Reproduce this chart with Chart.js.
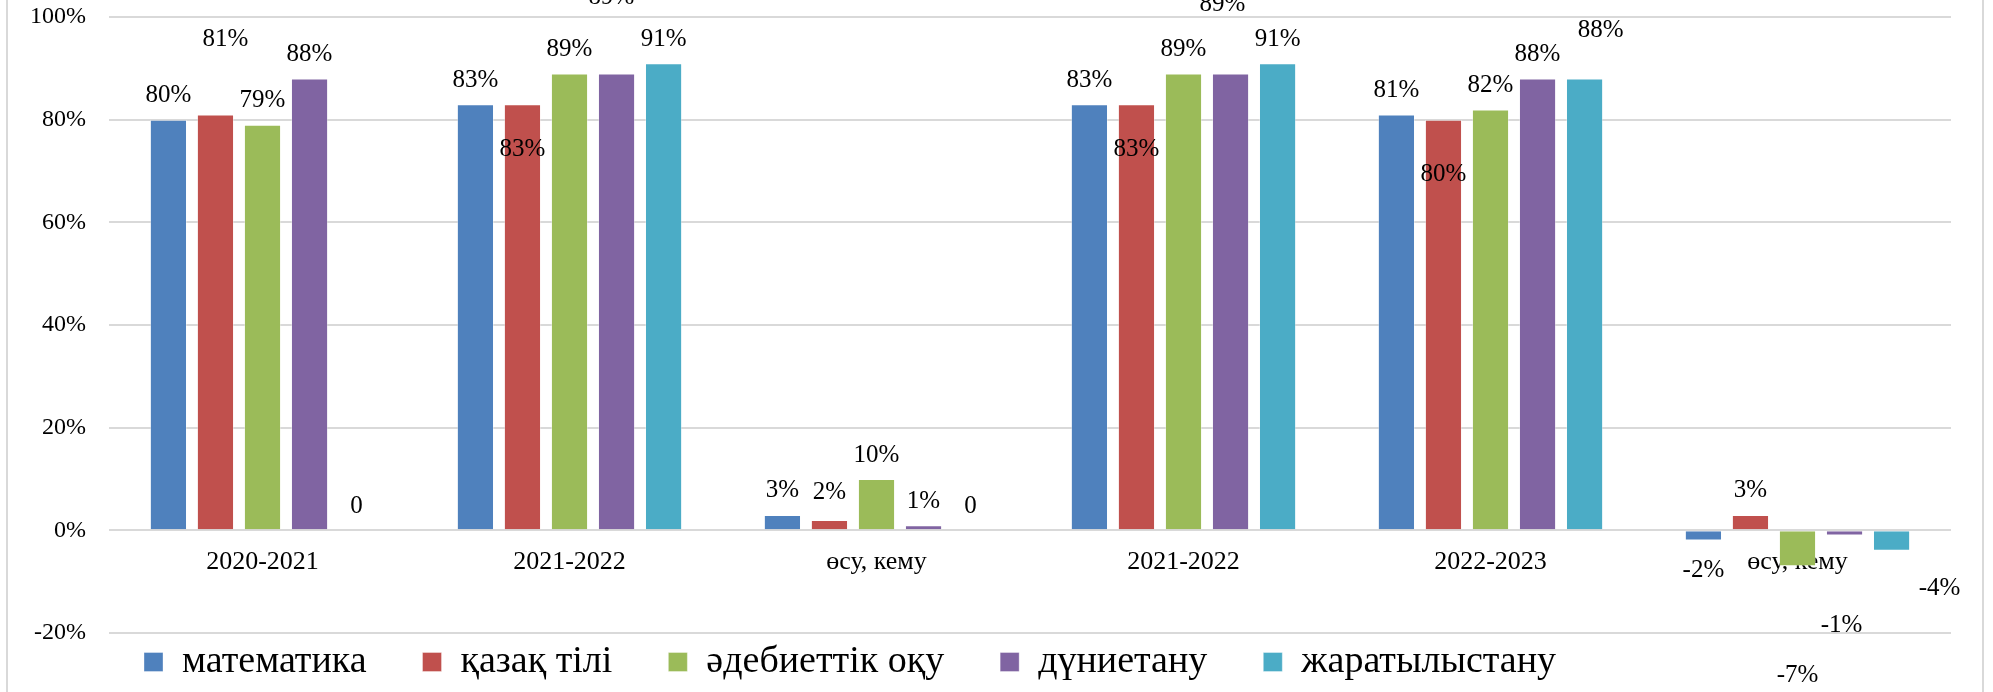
<!DOCTYPE html>
<html lang="kk">
<head>
<meta charset="utf-8" />
<title>Chart</title>
<script src="https://cdn.jsdelivr.net/npm/chart.js@4.4.1/dist/chart.umd.min.js"></script>
<style>
    body { margin: 0; background: #fff; }
    #wrap { position: relative; width: 1993px; height: 692px; }
    #frame {
        position: absolute; left: 6px; top: 0; width: 1974px; height: 692px;
        border-left: 2px solid #d9d9d9; border-right: 2px solid #d9d9d9;
        pointer-events: none;
    }
</style>
</head>
<body>
<div id="wrap">
    <canvas id="chart" width="1993" height="692"></canvas>
    <div id="frame"></div>
</div>
<script>
    // categories and series
    const categories = ['2020-2021', '2021-2022', 'өсу, кему', '2021-2022', '2022-2023', 'өсу, кему'];
    const subjects = ['математика', 'қазақ тілі', 'әдебиеттік оқу', 'дүниетану', 'жаратылыстану'];
    const colors = ['#4f81bd', '#c0504d', '#9bbb59', '#8064a2', '#4bacc6'];

    const matematika = [80, 83, 3, 83, 81, -2];
    const kazakTili = [81, 83, 2, 83, 80, 3];
    const adebiet = [79, 89, 10, 89, 82, -7];
    const duniyetanu = [88, 89, 1, 89, 88, -1];
    const zharatylystanu = [0, 91, 0, 91, 88, -4];

    const yTicks = [-20, 0, 20, 40, 60, 80, 100];

    // hand-placed labels in the original, "dataset-category": [dx, dy]
    const labelNudge = {
        '1-0': [10, -51],
        '1-1': [0, 69], '3-1': [-5, -52],
        '1-2': [0, -4],
        '1-3': [0, 69], '3-3': [-8, -45],
        '1-4': [0, 79], '4-4': [16, -24],
        '0-5': [0, 2], '2-5': [0, 81], '3-5': [-3, 62], '4-5': [48, 10]
    };

    const serif = 'Liberation Serif, Times New Roman, serif';

    const barLabels = {
        id: 'barLabels',
        afterDatasetsDraw(chart) {
            const ctx = chart.ctx;
            ctx.save();
            ctx.font = '25px ' + serif;
            ctx.fillStyle = '#000';
            ctx.textAlign = 'center';
            ctx.textBaseline = 'middle';
            chart.data.datasets.forEach((ds, i) => {
                const meta = chart.getDatasetMeta(i);
                meta.data.forEach((bar, j) => {
                    const v = ds.data[j];
                    const n = labelNudge[i + '-' + j] || [0, 0];
                    const y = v < 0 ? bar.y + 28 : bar.y - 24;
                    const txt = v === 0 ? '0' : v + '%';
                    ctx.fillText(txt, bar.x + n[0], y + n[1]);
                });
            });
            ctx.restore();
        }
    };

    // legend sits lower and further left than Chart.js would put it
    const legendPlace = {
        id: 'legendPlace',
        afterLayout(chart) {
            const pad = chart.options.plugins.legend.labels.padding;
            chart.legend.left = 144 - pad;
            chart.legend.top = 643 - pad;
        }
    };

    const seriesData = [matematika, kazakTili, adebiet, duniyetanu, zharatylystanu];

    new Chart(document.getElementById('chart'), {
        type: 'bar',
        data: {
            labels: categories,
            datasets: subjects.map((s, i) => ({
                label: s,
                data: seriesData[i],
                backgroundColor: colors[i],
                borderColor: 'rgba(255,255,255,0.35)',
                borderWidth: 1,
                categoryPercentage: 0.766,
                barPercentage: 0.79
            }))
        },
        options: {
            responsive: false,
            animation: false,
            layout: { padding: { left: 8, right: 42, top: 17, bottom: 0 } },
            scales: {
                x: {
                    position: { y: 0 },
                    grid: { display: false },
                    border: { display: false },
                    ticks: { color: '#000', font: { family: serif, size: 26 }, padding: 8 }
                },
                y: {
                    min: -20,
                    max: 100,
                    afterBuildTicks(scale) { scale.ticks = yTicks.map(v => ({ value: v })); },
                    afterFit(scale) {
                        scale.width = 101;
                        scale.paddingTop = 0;
                        scale.paddingBottom = 0;
                    },
                    grid: { color: '#d9d9d9', lineWidth: 2, drawTicks: false },
                    border: { display: false },
                    ticks: {
                        color: '#000',
                        font: { family: serif, size: 24 },
                        padding: 23,
                        callback: v => v + '%'
                    }
                }
            },
            plugins: {
                tooltip: { enabled: false },
                legend: {
                    position: 'bottom',
                    align: 'start',
                    maxHeight: 59,
                    labels: {
                        color: '#000',
                        font: { family: serif, size: 38 },
                        boxWidth: 19,
                        boxHeight: 19,
                        padding: 56
                    }
                }
            }
        },
        plugins: [barLabels, legendPlace]
    });
</script>
</body>
</html>
